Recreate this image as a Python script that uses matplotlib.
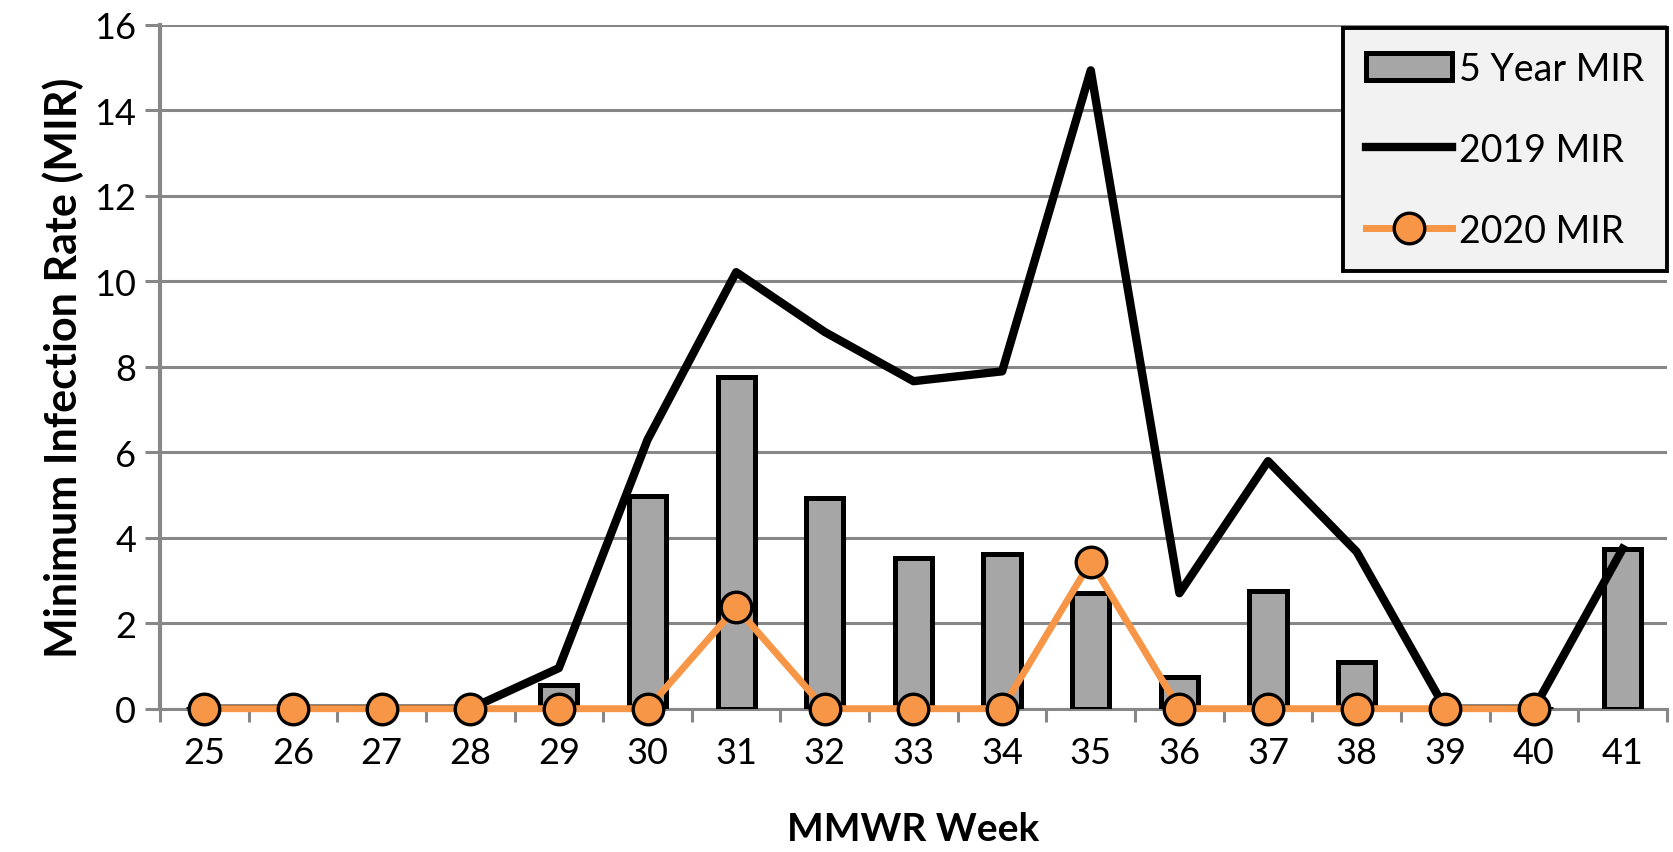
import matplotlib
matplotlib.use("Agg")
import matplotlib.pyplot as plt
from matplotlib.patches import Patch
from matplotlib.lines import Line2D

# MMWR weeks and minimum infection rates
weeks = [25, 26, 27, 28, 29, 30, 31, 32, 33, 34, 35, 36, 37, 38, 39, 40, 41]
mir_5yr = [0, 0, 0, 0, 0.55, 4.97, 7.75, 4.92, 3.52, 3.62, 2.7, 0.75, 2.75, 1.1, 0, 0, 3.74]
mir_2019 = [0, 0, 0, 0, 0.95, 6.29, 10.21, 8.81, 7.66, 7.89, 14.93, 2.7, 5.79, 3.67, 0, 0, 3.74]
# 2020 has no value for week 41
weeks_2020 = weeks[:-1]
mir_2020 = [0, 0, 0, 0, 0, 0, 2.37, 0, 0, 0, 3.44, 0, 0, 0, 0, 0]

plt.rcParams['font.family'] = ['Lato', 'DejaVu Sans']

GRID = '#878787'
ORANGE = '#f79646'
BAR = '#a6a6a6'

fig = plt.figure(figsize=(16.73, 8.53), dpi=100)
ax = fig.add_axes([0.0956, 0.168, 0.9008, 0.802])

# Bars for the 5 year average
ax.bar(weeks, mir_5yr, width=0.42, color=BAR, edgecolor='black',
       linewidth=3.6, zorder=3)

# 2019 and 2020 lines
ax.plot(weeks, mir_2019, color='black', linewidth=6, zorder=4)
ax.plot(weeks_2020, mir_2020, color=ORANGE, linewidth=5, marker='o',
        markersize=22, markerfacecolor=ORANGE, markeredgecolor='black',
        markeredgewidth=2.4, zorder=5, clip_on=False)

# Axes limits and ticks
ax.set_xlim(24.5, 41.5)
ax.set_ylim(0, 16)
ax.set_yticks(range(0, 17, 2))
ax.set_xticks(weeks)
ax.set_xticks([w - 0.5 for w in weeks] + [41.5], minor=True)
ax.tick_params(axis='x', which='major', length=0, labelsize=26, pad=20)
ax.tick_params(axis='x', which='minor', length=9, width=2.2, color=GRID,
               direction='out')
ax.tick_params(axis='y', length=11, width=2.2, color=GRID, labelsize=26, pad=6)

# Gridlines
ax.grid(axis='y', color=GRID, linewidth=2.2, zorder=0)
ax.set_axisbelow(True)

for side in ['top', 'right']:
    ax.spines[side].set_visible(False)
ax.spines['left'].set_color(GRID)
ax.spines['left'].set_linewidth(3)
ax.spines['bottom'].set_color(GRID)
ax.spines['bottom'].set_linewidth(2.2)

ax.set_xlabel('MMWR Week', fontsize=28, fontweight='bold', labelpad=30)
ax.set_ylabel('Minimum Infection Rate (MIR)', fontsize=31, fontweight='bold',
              labelpad=7)

# Legend
handles = [
    Patch(facecolor=BAR, edgecolor='black', linewidth=3.6),
    Line2D([], [], color='black', linewidth=6),
    Line2D([], [], color=ORANGE, linewidth=5, marker='o', markersize=22,
           markerfacecolor=ORANGE, markeredgecolor='black', markeredgewidth=2.4),
]
leg = ax.legend(handles, ['5 Year MIR', '2019 MIR', '2020 MIR'],
                loc='upper right', bbox_to_anchor=(1.0, 0.995),
                borderaxespad=0, fontsize=27, handlelength=2.3,
                labelspacing=1.2, handletextpad=0.2, borderpad=0.6,
                fancybox=False, framealpha=1)
leg.get_frame().set_facecolor('#f2f2f2')
leg.get_frame().set_edgecolor('black')
leg.get_frame().set_linewidth(2.8)

fig.savefig('out.png', dpi=100)
